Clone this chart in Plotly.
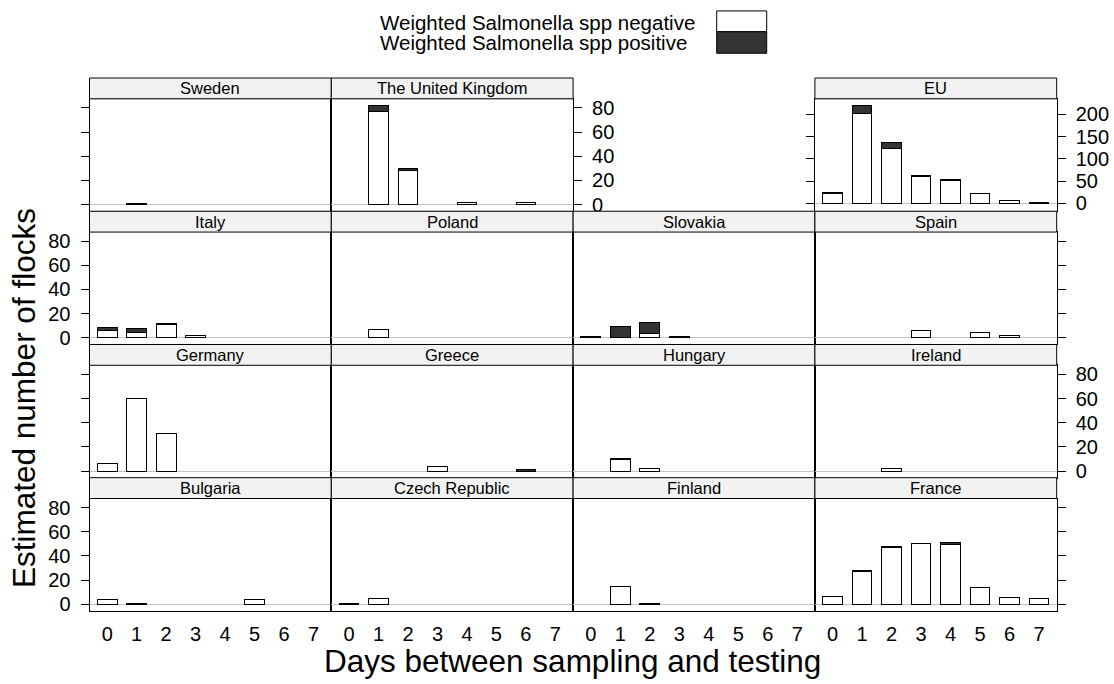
import plotly.graph_objects as go

# ---------------- data ----------------
days = [0, 1, 2, 3, 4, 5, 6, 7]
day_labels = ["0", "1", "2", "3", "4", "5", "6", "7"]
y_ticks = [0, 20, 40, 60, 80]
eu_ticks = [0, 50, 100, 150, 200]

series_names = ["Weighted Salmonella spp negative", "Weighted Salmonella spp positive"]

sweden_neg = [0, 0, 0, 0, 0, 0, 0, 0]
sweden_pos = [0, 1, 0, 0, 0, 0, 0, 0]
uk_neg = [0, 77, 28, 0, 2, 0, 2, 0]
uk_pos = [0, 5, 2, 0, 0, 0, 0, 0]
eu_neg = [22, 202, 123, 60, 51, 21, 7, 1.5]
eu_pos = [2.5, 18, 14, 2, 2, 0, 0, 1]
italy_neg = [6, 4, 11, 1.7, 0, 0, 0, 0]
italy_pos = [2.5, 3.5, 1, 0, 0, 0, 0, 0]
poland_neg = [0, 6.6, 0, 0, 0, 0, 0, 0]
poland_pos = [0, 0, 0, 0, 0, 0, 0, 0]
slovakia_neg = [0, 0, 3.3, 0, 0, 0, 0, 0]
slovakia_pos = [1, 9.4, 9.1, 1, 0, 0, 0, 0]
spain_neg = [0, 0, 0, 6, 0, 4, 2, 0]
spain_pos = [0, 0, 0, 0, 0, 0, 0, 0]
germany_neg = [6.4, 60, 31, 0, 0, 0, 0, 0]
germany_pos = [0, 0, 0, 0, 0, 0, 0, 0]
greece_neg = [0, 0, 0, 3.9, 0, 0, 0, 0]
greece_pos = [0, 0, 0, 0, 0, 0, 1, 0]
hungary_neg = [0, 9.3, 2, 0, 0, 0, 0, 0]
hungary_pos = [0, 1, 0, 0, 0, 0, 0, 0]
ireland_neg = [0, 0, 2, 0, 0, 0, 0, 0]
ireland_pos = [0, 0, 0, 0, 0, 0, 0, 0]
bulgaria_neg = [3.6, 0, 0, 0, 0, 3.6, 0, 0]
bulgaria_pos = [0, 1, 0, 0, 0, 0, 0, 0]
czech_neg = [0, 4.4, 0, 0, 0, 0, 0, 0]
czech_pos = [0.6, 0, 0, 0, 0, 0, 0, 0]
finland_neg = [0, 15, 0.5, 0, 0, 0, 0, 0]
finland_pos = [0, 0, 0, 0, 0, 0, 0, 0]
france_neg = [6.8, 26.7, 47, 50.4, 49.3, 14.2, 5.2, 4.4]
france_pos = [0, 1, 1, 0, 2, 0, 0, 0]

# (title, row, col, negative, positive)
panels = [
    ("Sweden", 0, 0, sweden_neg, sweden_pos),
    ("The United Kingdom", 0, 1, uk_neg, uk_pos),
    ("EU", 0, 3, eu_neg, eu_pos),
    ("Italy", 1, 0, italy_neg, italy_pos),
    ("Poland", 1, 1, poland_neg, poland_pos),
    ("Slovakia", 1, 2, slovakia_neg, slovakia_pos),
    ("Spain", 1, 3, spain_neg, spain_pos),
    ("Germany", 2, 0, germany_neg, germany_pos),
    ("Greece", 2, 1, greece_neg, greece_pos),
    ("Hungary", 2, 2, hungary_neg, hungary_pos),
    ("Ireland", 2, 3, ireland_neg, ireland_pos),
    ("Bulgaria", 3, 0, bulgaria_neg, bulgaria_pos),
    ("Czech Republic", 3, 1, czech_neg, czech_pos),
    ("Finland", 3, 2, finland_neg, finland_pos),
    ("France", 3, 3, france_neg, france_pos),
]

# ---------------- layout geometry (window pixels) ----------------
W, H = 1114, 684
COL_L, COL_W = 89.5, 241.8
ROW_T, ROW_H, STRIP_H = 76.7, 134.4, 21.0
FONT = "Liberation Sans, Arial, Helvetica, sans-serif"
DARK = "#333333"


def fx(p):
    return p / W


def fy(p):
    return 1 - p / H


def bars(vals):
    # zero-height bars are not drawn in the reference
    return [v if v else None for v in vals]


fig = go.Figure()
layout = {}
shapes = []
annotations = []

for k, (name, r, c, neg, pos) in enumerate(panels, start=1):
    xs = f"x{k}" if k > 1 else "x"
    ys = f"y{k}" if k > 1 else "y"
    xk = f"xaxis{k}" if k > 1 else "xaxis"
    yk = f"yaxis{k}" if k > 1 else "yaxis"
    x0 = COL_L + c * COL_W
    x1 = x0 + COL_W
    top = ROW_T + r * ROW_H
    ptop = top + STRIP_H
    pbot = top + ROW_H

    fig.add_trace(go.Bar(x=days, y=bars(neg), xaxis=xs, yaxis=ys, width=2 / 3,
                         marker=dict(color="white", line=dict(color="black", width=1)),
                         name=series_names[0], showlegend=False))
    fig.add_trace(go.Bar(x=days, y=bars(pos), xaxis=xs, yaxis=ys, width=2 / 3,
                         marker=dict(color=DARK, line=dict(color="black", width=1)),
                         name=series_names[1], showlegend=False))

    bottom_row = (r == 3)
    layout[xk] = dict(
        domain=[fx(x0), fx(x1)], anchor=ys, range=[-0.6, 7.6],
        tickvals=days, ticktext=day_labels, showticklabels=bottom_row,
        ticks="", showgrid=False, zeroline=False,
        showline=True, mirror=True, linecolor="black", linewidth=1,
        tickfont=dict(size=20, color="black"), ticklabelstandoff=5,
    )

    is_eu = name == "EU"
    ya = dict(
        domain=[fy(pbot), fy(ptop)], anchor=xs,
        range=[-18, 235] if is_eu else [-5.5, 87.5],
        tickvals=eu_ticks if is_eu else y_ticks,
        showgrid=False, zeroline=True, zerolinecolor="#c4c4c4", zerolinewidth=1,
        showline=True, mirror=True, linecolor="black", linewidth=1,
        tickfont=dict(size=20, color="black"), ticklen=8, tickcolor="black",
        tickwidth=1, ticklabelstandoff=6,
    )
    if is_eu:
        ya.update(side="right", ticks="outside", mirror="ticks", showticklabels=True)
    elif c == 0:
        ya.update(side="left", ticks="outside", showticklabels=(r in (1, 3)))
    elif c == 3 or (r == 0 and c == 1):
        ya.update(side="right", ticks="outside", showticklabels=(r in (0, 2)))
    else:
        ya.update(ticks="", showticklabels=False)
    layout[yk] = ya

    # strip
    shapes.append(dict(type="rect", xref="paper", yref="paper",
                       x0=fx(x0), x1=fx(x1), y0=fy(ptop), y1=fy(top),
                       fillcolor="#f2f2f2", line=dict(color="black", width=1),
                       layer="above"))
    annotations.append(dict(text=name, xref="paper", yref="paper",
                            x=fx((x0 + x1) / 2), y=fy(top + STRIP_H / 2),
                            xanchor="center", yanchor="middle", showarrow=False,
                            font=dict(size=16.5, color="black")))

# legend (key) at top
annotations.append(dict(text=series_names[0], xref="paper", yref="paper",
                        x=fx(378), y=fy(20.5), xanchor="left", yanchor="middle",
                        showarrow=False, font=dict(size=20.5, color="black")))
annotations.append(dict(text=series_names[1], xref="paper", yref="paper",
                        x=fx(378), y=fy(40.5), xanchor="left", yanchor="middle",
                        showarrow=False, font=dict(size=20.5, color="black")))
shapes.append(dict(type="rect", xref="paper", yref="paper",
                   x0=fx(716.7), x1=fx(766.7), y0=fy(30), y1=fy(9),
                   fillcolor="white", line=dict(color="black", width=1)))
shapes.append(dict(type="rect", xref="paper", yref="paper",
                   x0=fx(716.7), x1=fx(766.7), y0=fy(51.7), y1=fy(30),
                   fillcolor=DARK, line=dict(color="black", width=1)))

# axis titles
annotations.append(dict(text="Days between sampling and testing", xref="paper", yref="paper",
                        x=fx(572.5), y=fy(665), xanchor="center", yanchor="middle",
                        showarrow=False, font=dict(size=31.5, color="black")))
annotations.append(dict(text="Estimated number of flocks", xref="paper", yref="paper",
                        x=fx(24.5), y=fy(400), xanchor="center", yanchor="middle",
                        textangle=-90, showarrow=False, font=dict(size=31.5, color="black")))

fig.update_layout(
    width=W, height=H, margin=dict(l=0, r=0, t=0, b=0),
    paper_bgcolor="white", plot_bgcolor="white",
    barmode="stack", showlegend=False,
    font=dict(family=FONT, color="black"),
    shapes=shapes, annotations=annotations,
    **layout,
)

fig.write_html(
    "out.html",
    config={"displayModeBar": False},
    post_script="document.body.style.margin='0';document.body.style.overflow='hidden';",
)
